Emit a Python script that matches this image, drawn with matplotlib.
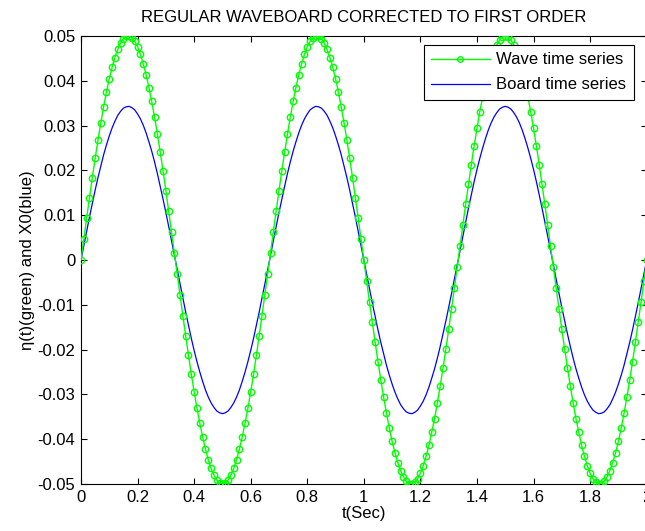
import matplotlib
matplotlib.use("Agg")
import matplotlib.pyplot as plt
import numpy as np

plt.rcParams["font.family"] = ["Liberation Sans", "DejaVu Sans"]
plt.rcParams["axes.unicode_minus"] = False

# sample times: 0 .. 2 s every 0.01 s
t = np.linspace(0.0, 2.0, 201)

# wave elevation eta(t)
wave = [
    0.0000, 0.0047, 0.0094, 0.0139, 0.0184, 0.0227, 0.0268, 0.0306, 0.0342, 0.0375,
    0.0405, 0.0430, 0.0452, 0.0470, 0.0484, 0.0494, 0.0499, 0.0500, 0.0496, 0.0488,
    0.0476, 0.0459, 0.0438, 0.0414, 0.0385, 0.0354, 0.0319, 0.0281, 0.0241, 0.0199,
    0.0155, 0.0109, 0.0063, 0.0016, -0.0031, -0.0078, -0.0124, -0.0169, -0.0213, -0.0255,
    -0.0294, -0.0331, -0.0364, -0.0395, -0.0422, -0.0446, -0.0465, -0.0480, -0.0491, -0.0498,
    -0.0500, -0.0498, -0.0491, -0.0480, -0.0465, -0.0446, -0.0422, -0.0395, -0.0364, -0.0331,
    -0.0294, -0.0255, -0.0213, -0.0169, -0.0124, -0.0078, -0.0031,
    0.0016, 0.0063, 0.0109, 0.0155, 0.0199, 0.0241, 0.0281, 0.0319, 0.0354, 0.0385,
    0.0414, 0.0438, 0.0459, 0.0476, 0.0488, 0.0496, 0.0500, 0.0499, 0.0494, 0.0484,
    0.0470, 0.0452, 0.0430, 0.0405, 0.0375, 0.0342, 0.0306, 0.0268, 0.0227, 0.0184,
    0.0139, 0.0094, 0.0047, 0.0000, -0.0047, -0.0094, -0.0139, -0.0184, -0.0227, -0.0268,
    -0.0306, -0.0342, -0.0375, -0.0405, -0.0430, -0.0452, -0.0470, -0.0484, -0.0494, -0.0499,
    -0.0500, -0.0496, -0.0488, -0.0476, -0.0459, -0.0438, -0.0414, -0.0385, -0.0354, -0.0319,
    -0.0281, -0.0241, -0.0199, -0.0155, -0.0109, -0.0063, -0.0016,
    0.0031, 0.0078, 0.0124, 0.0169, 0.0213, 0.0255, 0.0294, 0.0331, 0.0364, 0.0395,
    0.0422, 0.0446, 0.0465, 0.0480, 0.0491, 0.0498, 0.0500, 0.0498, 0.0491, 0.0480,
    0.0465, 0.0446, 0.0422, 0.0395, 0.0364, 0.0331, 0.0294, 0.0255, 0.0213, 0.0169,
    0.0124, 0.0078, 0.0031, -0.0016, -0.0063, -0.0109, -0.0155, -0.0199, -0.0241, -0.0281,
    -0.0319, -0.0354, -0.0385, -0.0414, -0.0438, -0.0459, -0.0476, -0.0488, -0.0496, -0.0500,
    -0.0499, -0.0494, -0.0484, -0.0470, -0.0452, -0.0430, -0.0405, -0.0375, -0.0342, -0.0306,
    -0.0268, -0.0227, -0.0184, -0.0139, -0.0094, -0.0047, 0.0000,
]

# board displacement X0(t)
board = [
    0.0000, 0.0032, 0.0064, 0.0096, 0.0126, 0.0156, 0.0184, 0.0210, 0.0235, 0.0257,
    0.0277, 0.0295, 0.0310, 0.0323, 0.0332, 0.0339, 0.0342, 0.0343, 0.0340, 0.0335,
    0.0326, 0.0315, 0.0301, 0.0284, 0.0264, 0.0243, 0.0219, 0.0193, 0.0165, 0.0136,
    0.0106, 0.0075, 0.0043, 0.0011, -0.0022, -0.0054, -0.0085, -0.0116, -0.0146, -0.0175,
    -0.0202, -0.0227, -0.0250, -0.0271, -0.0290, -0.0306, -0.0319, -0.0329, -0.0337, -0.0341,
    -0.0343, -0.0341, -0.0337, -0.0329, -0.0319, -0.0306, -0.0290, -0.0271, -0.0250, -0.0227,
    -0.0202, -0.0175, -0.0146, -0.0116, -0.0085, -0.0054, -0.0022,
    0.0011, 0.0043, 0.0075, 0.0106, 0.0136, 0.0165, 0.0193, 0.0219, 0.0243, 0.0264,
    0.0284, 0.0301, 0.0315, 0.0326, 0.0335, 0.0340, 0.0343, 0.0342, 0.0339, 0.0332,
    0.0323, 0.0310, 0.0295, 0.0277, 0.0257, 0.0235, 0.0210, 0.0184, 0.0156, 0.0126,
    0.0096, 0.0064, 0.0032, 0.0000, -0.0032, -0.0064, -0.0096, -0.0126, -0.0156, -0.0184,
    -0.0210, -0.0235, -0.0257, -0.0277, -0.0295, -0.0310, -0.0323, -0.0332, -0.0339, -0.0342,
    -0.0343, -0.0340, -0.0335, -0.0326, -0.0315, -0.0301, -0.0284, -0.0264, -0.0243, -0.0219,
    -0.0193, -0.0165, -0.0136, -0.0106, -0.0075, -0.0043, -0.0011,
    0.0022, 0.0054, 0.0085, 0.0116, 0.0146, 0.0175, 0.0202, 0.0227, 0.0250, 0.0271,
    0.0290, 0.0306, 0.0319, 0.0329, 0.0337, 0.0341, 0.0343, 0.0341, 0.0337, 0.0329,
    0.0319, 0.0306, 0.0290, 0.0271, 0.0250, 0.0227, 0.0202, 0.0175, 0.0146, 0.0116,
    0.0085, 0.0054, 0.0022, -0.0011, -0.0043, -0.0075, -0.0106, -0.0136, -0.0165, -0.0193,
    -0.0219, -0.0243, -0.0264, -0.0284, -0.0301, -0.0315, -0.0326, -0.0335, -0.0340, -0.0343,
    -0.0342, -0.0339, -0.0332, -0.0323, -0.0310, -0.0295, -0.0277, -0.0257, -0.0235, -0.0210,
    -0.0184, -0.0156, -0.0126, -0.0096, -0.0064, -0.0032, 0.0000,
]

xticks = [0, 0.2, 0.4, 0.6, 0.8, 1, 1.2, 1.4, 1.6, 1.8, 2]
xticklabels = ["0", "0.2", "0.4", "0.6", "0.8", "1", "1.2", "1.4", "1.6", "1.8", "2"]
yticks = [-0.05, -0.04, -0.03, -0.02, -0.01, 0, 0.01, 0.02, 0.03, 0.04, 0.05]
yticklabels = ["-0.05", "-0.04", "-0.03", "-0.02", "-0.01", "0",
               "0.01", "0.02", "0.03", "0.04", "0.05"]

FS = 12

fig = plt.figure(figsize=(6.45, 5.31), dpi=100)
# right edge of the box sits just past the image, as in the original export
ax = fig.add_axes([0.1256, 0.0885, 0.877, 0.8437])

ax.plot(t, wave, color="#00ff00", lw=1.0, marker="o", ms=4.6, mfc="none",
        mec="#00ff00", mew=1.0, label="Wave time series", zorder=3)
ax.plot(t, board, color="#0000ff", lw=0.9, label="Board time series", zorder=2)

ax.set_xlim(0, 2)
ax.set_ylim(-0.05, 0.05)
ax.set_xticks(xticks)
ax.set_xticklabels(xticklabels)
ax.set_yticks(yticks)
ax.set_yticklabels(yticklabels)
ax.tick_params(direction="in", top=True, right=True, length=4, width=0.8,
               labelsize=FS, pad=4)
for s in ax.spines.values():
    s.set_linewidth(0.8)

ax.set_title("REGULAR WAVEBOARD CORRECTED TO FIRST ORDER", fontsize=FS, pad=10)
ax.set_xlabel("t(Sec)", fontsize=FS, labelpad=1)
ax.set_ylabel("η(t)(green) and X0(blue)", fontsize=FS, labelpad=2)

leg = ax.legend(loc="upper right", bbox_to_anchor=(0.977, 0.98), fontsize=FS,
                fancybox=False, framealpha=1, edgecolor="black", borderpad=0.45,
                handlelength=3.5, handletextpad=0.4, labelspacing=0.6,
                borderaxespad=0)
leg.get_frame().set_linewidth(0.8)
leg.legend_handles[0].set_markersize(4)

fig.savefig("out.png", dpi=100)
